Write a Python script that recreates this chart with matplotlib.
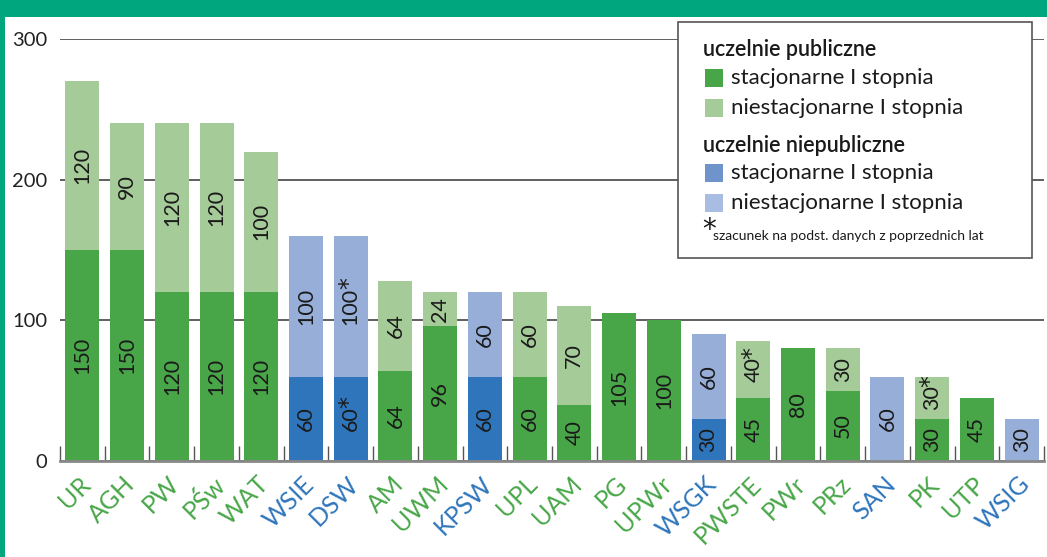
import matplotlib
matplotlib.use("Agg")
import matplotlib.pyplot as plt
from matplotlib.patches import Rectangle
import numpy as np

plt.rcParams["font.family"] = ["Lato", "DejaVu Sans"]

# uczelnie i liczba miejsc
names = ["UR", "AGH", "PW", "PŚw", "WAT", "WSIE", "DSW", "AM", "UWM", "KPSW", "UPL",
         "UAM", "PG", "UPWr", "WSGK", "PWSTE", "PWr", "PRz", "SAN", "PK", "UTP", "WSIG"]
public = [1, 1, 1, 1, 1, 0, 0, 1, 1, 0, 1, 1, 1, 1, 0, 1, 1, 1, 0, 1, 1, 0]
stacjonarne = [150, 150, 120, 120, 120, 60, 60, 64, 96, 60, 60, 40, 105, 100, 30, 45, 80, 50, 0, 30, 45, 0]
niestacjonarne = [120, 90, 120, 120, 100, 100, 100, 64, 24, 60, 60, 70, 0, 0, 60, 40, 0, 30, 60, 30, 0, 30]
# szacunek (*)
est_st = ["DSW"]
est_nst = ["DSW", "PWSTE", "PK"]
yticks = [0, 100, 200, 300]

GREEN = "#48a648"
LGREEN = "#a5cb98"
BLUE = "#2e75bb"
LBLUE = "#97aed8"
TEAL = "#00a67e"

W, H = 1047, 557
fig = plt.figure(figsize=(W / 100, H / 100), dpi=100)
ax = fig.add_axes((60 / W, 96 / H, 984 / W, 422 / H))

x = np.arange(len(names))
st = np.array(stacjonarne)
nst = np.array(niestacjonarne)
pub = np.array(public) == 1
c_st = [GREEN if p else BLUE for p in pub]
c_nst = [LGREEN if p else LBLUE for p in pub]

ax.bar(x, st, width=0.76, color=c_st, zorder=2)
ax.bar(x, nst, width=0.76, bottom=st, color=c_nst, zorder=2)


def seg_label(i, val, y, star):
    ax.text(i, y, str(val), rotation=90, ha="center", va="center",
            fontsize=15.5, color="#1a1a1a", zorder=3)
    if star:
        # gwiazdka tuż za liczbą, większa niż w Lato
        ax.annotate("*", (i, y), xytext=(-1, 4.5 * len(str(val)) + 3),
                    textcoords="offset points", rotation=90, ha="center", va="center",
                    fontsize=17, color="#1a1a1a", family="DejaVu Sans", zorder=3)


for i, n in enumerate(names):
    if st[i] > 0:
        seg_label(i, st[i], st[i] / 2, n in est_st)
    if nst[i] > 0:
        seg_label(i, nst[i], st[i] + nst[i] / 2, n in est_nst)

ax.set_xlim(-0.5, len(names) - 0.5)
ax.set_ylim(0, 300)
for s in ["left", "top", "right"]:
    ax.spines[s].set_visible(False)
ax.spines["bottom"].set_color("#888888")
ax.spines["bottom"].set_linewidth(2)

ax.set_yticks(yticks)
ax.tick_params(axis="y", length=0, labelsize=14.5, pad=9, labelcolor="#222222")
ax.yaxis.grid(True, color="#444444", lw=1.2, zorder=0)

ax.set_xticks(x)
ax.set_xticklabels([])
ax.tick_params(axis="x", which="major", length=0)
ax.set_xticks(np.arange(-0.5, len(names)), minor=True)
ax.tick_params(axis="x", which="minor", direction="in", length=11, width=1, color="#555555")

for i, n in enumerate(names):
    ax.annotate(n, (i, 0), xytext=(-3, -8), textcoords="offset points",
                rotation=45, rotation_mode="anchor", ha="right", va="top",
                fontsize=18, color=GREEN if pub[i] else BLUE)

# ramka i pasek u góry
fig.add_artist(Rectangle((0, 1 - 17 / H), 1, 17 / H, transform=fig.transFigure,
                         color=TEAL, lw=0, zorder=10))
fig.add_artist(Rectangle((0, 0), 5 / W, 1, transform=fig.transFigure,
                         color=TEAL, lw=0, zorder=10))


def fx(px):
    return px / W


def fy(py):
    return 1 - py / H


# legenda
fig.add_artist(Rectangle((fx(678), fy(258)), fx(1032) - fx(678), fy(22) - fy(258),
                         transform=fig.transFigure, facecolor="white",
                         edgecolor="#555555", lw=1.2, zorder=5))
rows = [
    ("title", "uczelnie publiczne", 50),
    (GREEN, "stacjonarne I stopnia", 78),
    (LGREEN, "niestacjonarne I stopnia", 108),
    ("title", "uczelnie niepubliczne", 145),
    ("#6f94cc", "stacjonarne I stopnia", 173),
    ("#a9bde3", "niestacjonarne I stopnia", 203),
]
for kind, txt, yy in rows:
    if kind == "title":
        fig.text(fx(703), fy(yy), txt, fontsize=15.5, fontweight="semibold",
                 color="#1a1a1a", va="center", zorder=6)
    else:
        fig.add_artist(Rectangle((fx(705), fy(yy + 9)), 18 / W, 18 / H,
                                 transform=fig.transFigure, color=kind, lw=0, zorder=6))
        fig.text(fx(731), fy(yy), txt, fontsize=16, color="#1a1a1a",
                 va="center", zorder=6)
fig.text(fx(702), fy(230), "*", fontsize=20, color="#1a1a1a", va="center",
         family="DejaVu Sans", zorder=6)
fig.text(fx(713), fy(236), "szacunek na podst. danych z poprzednich lat", fontsize=10,
         color="#1a1a1a", va="center", zorder=6)

fig.savefig("out.png", dpi=100)
